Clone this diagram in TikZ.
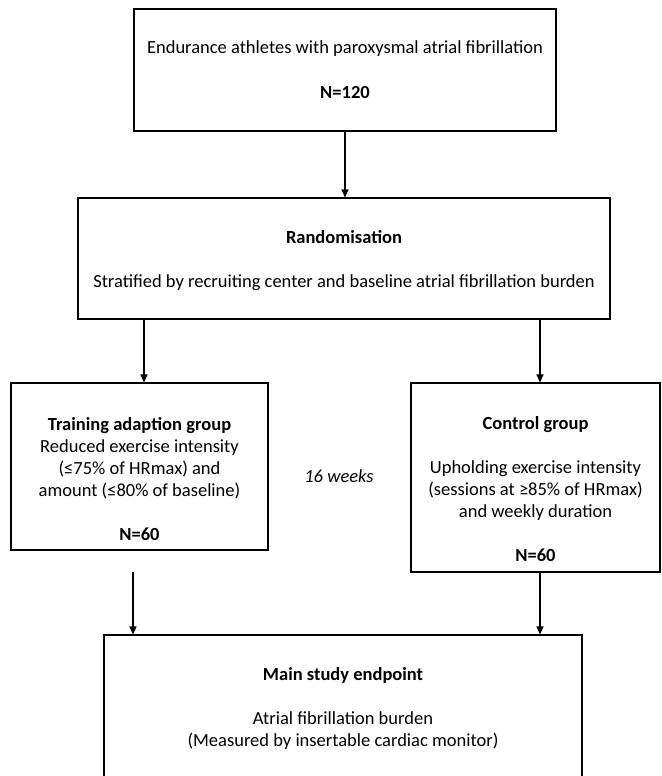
\documentclass[tikz,border=0pt]{standalone}
\usepackage{fontspec}
\setmainfont{Carlito}
\usetikzlibrary{arrows.meta,calc}
\newcommand{\hstr}[1]{\rule{0pt}{#1pt}}
\newcommand{\dstr}[1]{\rule[-#1pt]{0pt}{#1pt}}
\tikzset{
  box/.style={draw, line width=1.1pt, align=center, inner sep=0pt,
    font=\fontsize{18.5}{22}\selectfont},
  arr/.style={line width=1.1pt, -{Triangle[length=8pt,width=7pt]}},
}
\begin{document}
\begin{tikzpicture}[x=1pt,y=-1pt]
\useasboundingbox (0,0) rectangle (661,776);
\clip (0,0) rectangle (661,776);
\node[box, minimum width=422pt, minimum height=122pt] (top) at (345,70)
  {\hstr{20}Endurance athletes with paroxysmal atrial fibrillation\\[22pt]\textbf{N=120}\dstr{8}};
\node[box, minimum width=532pt, minimum height=121pt] (rand) at (344,258.5)
  {\hstr{21}\textbf{Randomisation}\\[22pt]Stratified by recruiting center and baseline atrial fibrillation burden\dstr{8}};
\node[box, minimum width=257pt, minimum height=167pt] (left) at (139.5,466.5)
  {\hstr{45}\textbf{Training adaption group}\\Reduced exercise intensity\\(≤75\% of HRmax) and\\amount (≤80\% of baseline)\\[22pt]\textbf{N=60}\dstr{8}};
\node[box, minimum width=249pt, minimum height=189pt] (right) at (535.5,477.5)
  {\hstr{43}\textbf{Control group}\\[22pt]Upholding exercise intensity\\(sessions at ≥85\% of HRmax)\\and weekly duration\\[22pt]\textbf{N=60}\dstr{8}};
\node[box, minimum width=478pt, minimum height=165pt] (bot) at (343,717.5)
  {\hstr{21}\textbf{Main study endpoint}\\[22pt]Atrial fibrillation burden\\(Measured by insertable cardiac monitor)\dstr{30}};
\node[font=\fontsize{18.5}{22}\selectfont\itshape, anchor=base, inner sep=0pt] (weeks) at (339,482) {16 weeks};
\coordinate (lx) at (144,0);
\coordinate (rx) at (540,0);
\coordinate (lstart) at (133,572);
\coordinate (rdown) at (540,0);
\draw[arr] (top.south) -- (rand.north -| top.south);
\draw[arr] (rand.south -| lx) -- (left.north -| lx);
\draw[arr] (rand.south -| rx) -- (right.north -| rx);
\draw[arr] (lstart) -- (bot.north -| lstart);
\draw[arr] (right.south -| rdown) -- (bot.north -| rdown);
\end{tikzpicture}
\end{document}
